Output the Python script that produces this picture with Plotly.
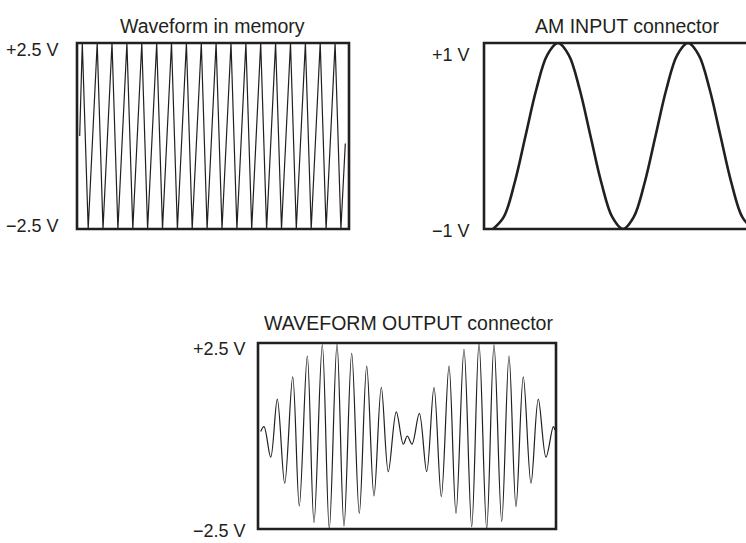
import plotly.graph_objects as go

W, H = 746, 543

# ---------- data ----------
# Panel 1: waveform in memory (vertices of the zig-zag), time in arbitrary units (0..272)
mem_start_t = [2.7]
mem_start_v = [0.0]
mem_peak_t = [5.3, 20.2, 35.0, 49.9, 64.8, 79.7, 94.5, 109.4, 124.3, 139.1,
              154.0, 168.9, 183.7, 198.6, 213.5, 228.4, 243.2, 258.1]
mem_trough_t = [11.2, 26.0, 40.9, 55.8, 70.6, 85.5, 100.4, 115.2, 130.1, 145.0,
                159.9, 174.7, 189.6, 204.5, 219.3, 234.2, 249.1, 263.9]
mem_peak_v = 2.5
mem_trough_v = -2.5
mem_end_t = [268.3]
mem_end_v = [-0.2]

# Panel 2: AM INPUT connector, time units (0..262 visible)
am_t = [9, 19.8, 30.7, 41.5, 52.3, 63.2, 74, 84.8, 95.7, 106.5, 117.3, 128.2,
        139, 149.8, 160.7, 171.5, 182.3, 193.2, 204, 214.8, 225.7, 236.5, 247.3,
        258.2, 269]
am_v = [-1, -0.87, -0.5, 0, 0.5, 0.87, 1, 0.87, 0.5, 0, -0.5, -0.87,
        -1, -0.87, -0.5, 0, 0.5, 0.87, 1, 0.87, 0.5, 0, -0.5, -0.87, -1]

# Panel 3: WAVEFORM OUTPUT connector (extrema), time units (0..298)
out_t = [2.7, 6.0, 12.7, 19.3, 26.7, 34.7, 41.3, 49.3, 56.0, 64.3, 71.3, 79.0,
         86.0, 93.7, 101.3, 108.7, 116.0, 123.3, 130.3, 138.3, 145.3, 149.3,
         154.0, 161.3, 168.7, 176.0, 183.3, 191.0, 198.0, 206.0, 213.7, 221.0,
         228.7, 236.0, 243.7, 251.0, 258.0, 265.3, 273.0, 280.3, 288.0, 295.3, 297.0]
out_v = [0.12, 0.25, -0.57, 0.99, -1.27, 1.59, -1.88, 2.15, -2.33, 2.45, -2.49, 2.47,
         -2.42, 2.22, -2.08, 1.88, -1.61, 1.31, -0.96, 0.65, -0.22, 0.0,
         -0.22, 0.61, -0.96, 1.31, -1.63, 1.88, -2.08, 2.33, -2.44, 2.49,
         -2.49, 2.45, -2.30, 2.15, -1.90, 1.59, -1.27, 0.99, -0.57, 0.25, 0.16]

titles = ["Waveform in memory", "AM INPUT connector", "WAVEFORM OUTPUT connector"]
ymax_vals = [2.5, 1.0, 2.5]
ymax_labels = ["+2.5 V", "+1 V", "+2.5 V"]
ymin_labels = ["\u22122.5 V", "\u22121 V", "\u22122.5 V"]
x_ranges = [[0, 272], [0, 262], [0, 298]]

# ---------- build zig-zag from the vertex lists ----------
mem_t = list(mem_start_t)
mem_v = list(mem_start_v)
for p, tr in zip(mem_peak_t, mem_trough_t):
    mem_t += [p, tr]
    mem_v += [mem_peak_v, mem_trough_v]
mem_t += mem_end_t
mem_v += mem_end_v

INK = "#231f20"
FONT = "Liberation Sans, Arial, sans-serif"
FS_TITLE = 19.5
FS_LABEL = 18

# pixel boxes (left, right, top, bottom)
boxes = [(77, 349, 43, 229), (484, 746, 43, 229), (258, 556, 343, 529)]

def fx(px):
    return px / W

def fy(py):
    return 1 - py / H

fig = go.Figure()
fig.add_trace(go.Scatter(x=mem_t, y=mem_v, mode="lines", xaxis="x", yaxis="y",
                         line=dict(color=INK, width=1.2), hoverinfo="skip"))
fig.add_trace(go.Scatter(x=am_t, y=am_v, mode="lines", xaxis="x2", yaxis="y2",
                         line=dict(color=INK, width=2.6, shape="spline", smoothing=1.0),
                         hoverinfo="skip"))
fig.add_trace(go.Scatter(x=out_t, y=out_v, mode="lines", xaxis="x3", yaxis="y3",
                         line=dict(color=INK, width=1.2, shape="spline", smoothing=1.0),
                         hoverinfo="skip"))

layout = dict(
    width=W, height=H, margin=dict(l=0, r=0, t=0, b=0),
    paper_bgcolor="white", plot_bgcolor="rgba(0,0,0,0)",
    showlegend=False, font=dict(family=FONT, color=INK, size=FS_LABEL),
)
names = [("xaxis", "yaxis"), ("xaxis2", "yaxis2"), ("xaxis3", "yaxis3")]
for i, ((xa, ya), (l, r, t, b)) in enumerate(zip(names, boxes)):
    yr = ymax_vals[i]
    layout[xa] = dict(domain=[fx(l), fx(r)], range=x_ranges[i], visible=False,
                      fixedrange=True, anchor=ya.replace("axis", ""))
    layout[ya] = dict(domain=[fy(b), fy(t)], range=[-yr, yr], visible=False,
                      fixedrange=True, anchor=xa.replace("axis", ""))

shapes = []
for i, (l, r, t, b) in enumerate(boxes):
    if i == 1:
        path = f"M {fx(r)},{fy(t)} L {fx(l)},{fy(t)} L {fx(l)},{fy(b)} L {fx(r)},{fy(b)}"
        shapes.append(dict(type="path", xref="paper", yref="paper", path=path,
                           line=dict(color=INK, width=2.6)))
    else:
        shapes.append(dict(type="rect", xref="paper", yref="paper",
                           x0=fx(l), x1=fx(r), y0=fy(b), y1=fy(t),
                           line=dict(color=INK, width=2.6)))
layout["shapes"] = shapes

title_centers = [212, 627, 408]
title_bottoms = [39, 39, 336]
top_label_cy = [50, 55, 349]
bot_label_cy = [226, 231, None]
label_right = [61, 472, 248]

ann = []
for i in range(3):
    ann.append(dict(text=titles[i], xref="paper", yref="paper",
                    x=fx(title_centers[i]), y=fy(title_bottoms[i]),
                    xanchor="center", yanchor="bottom", showarrow=False,
                    font=dict(size=FS_TITLE)))
    ann.append(dict(text=ymax_labels[i], xref="paper", yref="paper",
                    x=fx(label_right[i]), y=fy(top_label_cy[i]),
                    xanchor="right", yanchor="middle", showarrow=False))
    if bot_label_cy[i] is None:
        ann.append(dict(text=ymin_labels[i], xref="paper", yref="paper",
                        x=fx(label_right[i]), y=0,
                        xanchor="right", yanchor="bottom", showarrow=False))
    else:
        ann.append(dict(text=ymin_labels[i], xref="paper", yref="paper",
                        x=fx(label_right[i]), y=fy(bot_label_cy[i]),
                        xanchor="right", yanchor="middle", showarrow=False))
layout["annotations"] = ann

fig.update_layout(**layout)
fig.write_html("out.html", config={"displayModeBar": False},
               post_script="document.body.style.margin='0';document.body.style.overflow='hidden';")
